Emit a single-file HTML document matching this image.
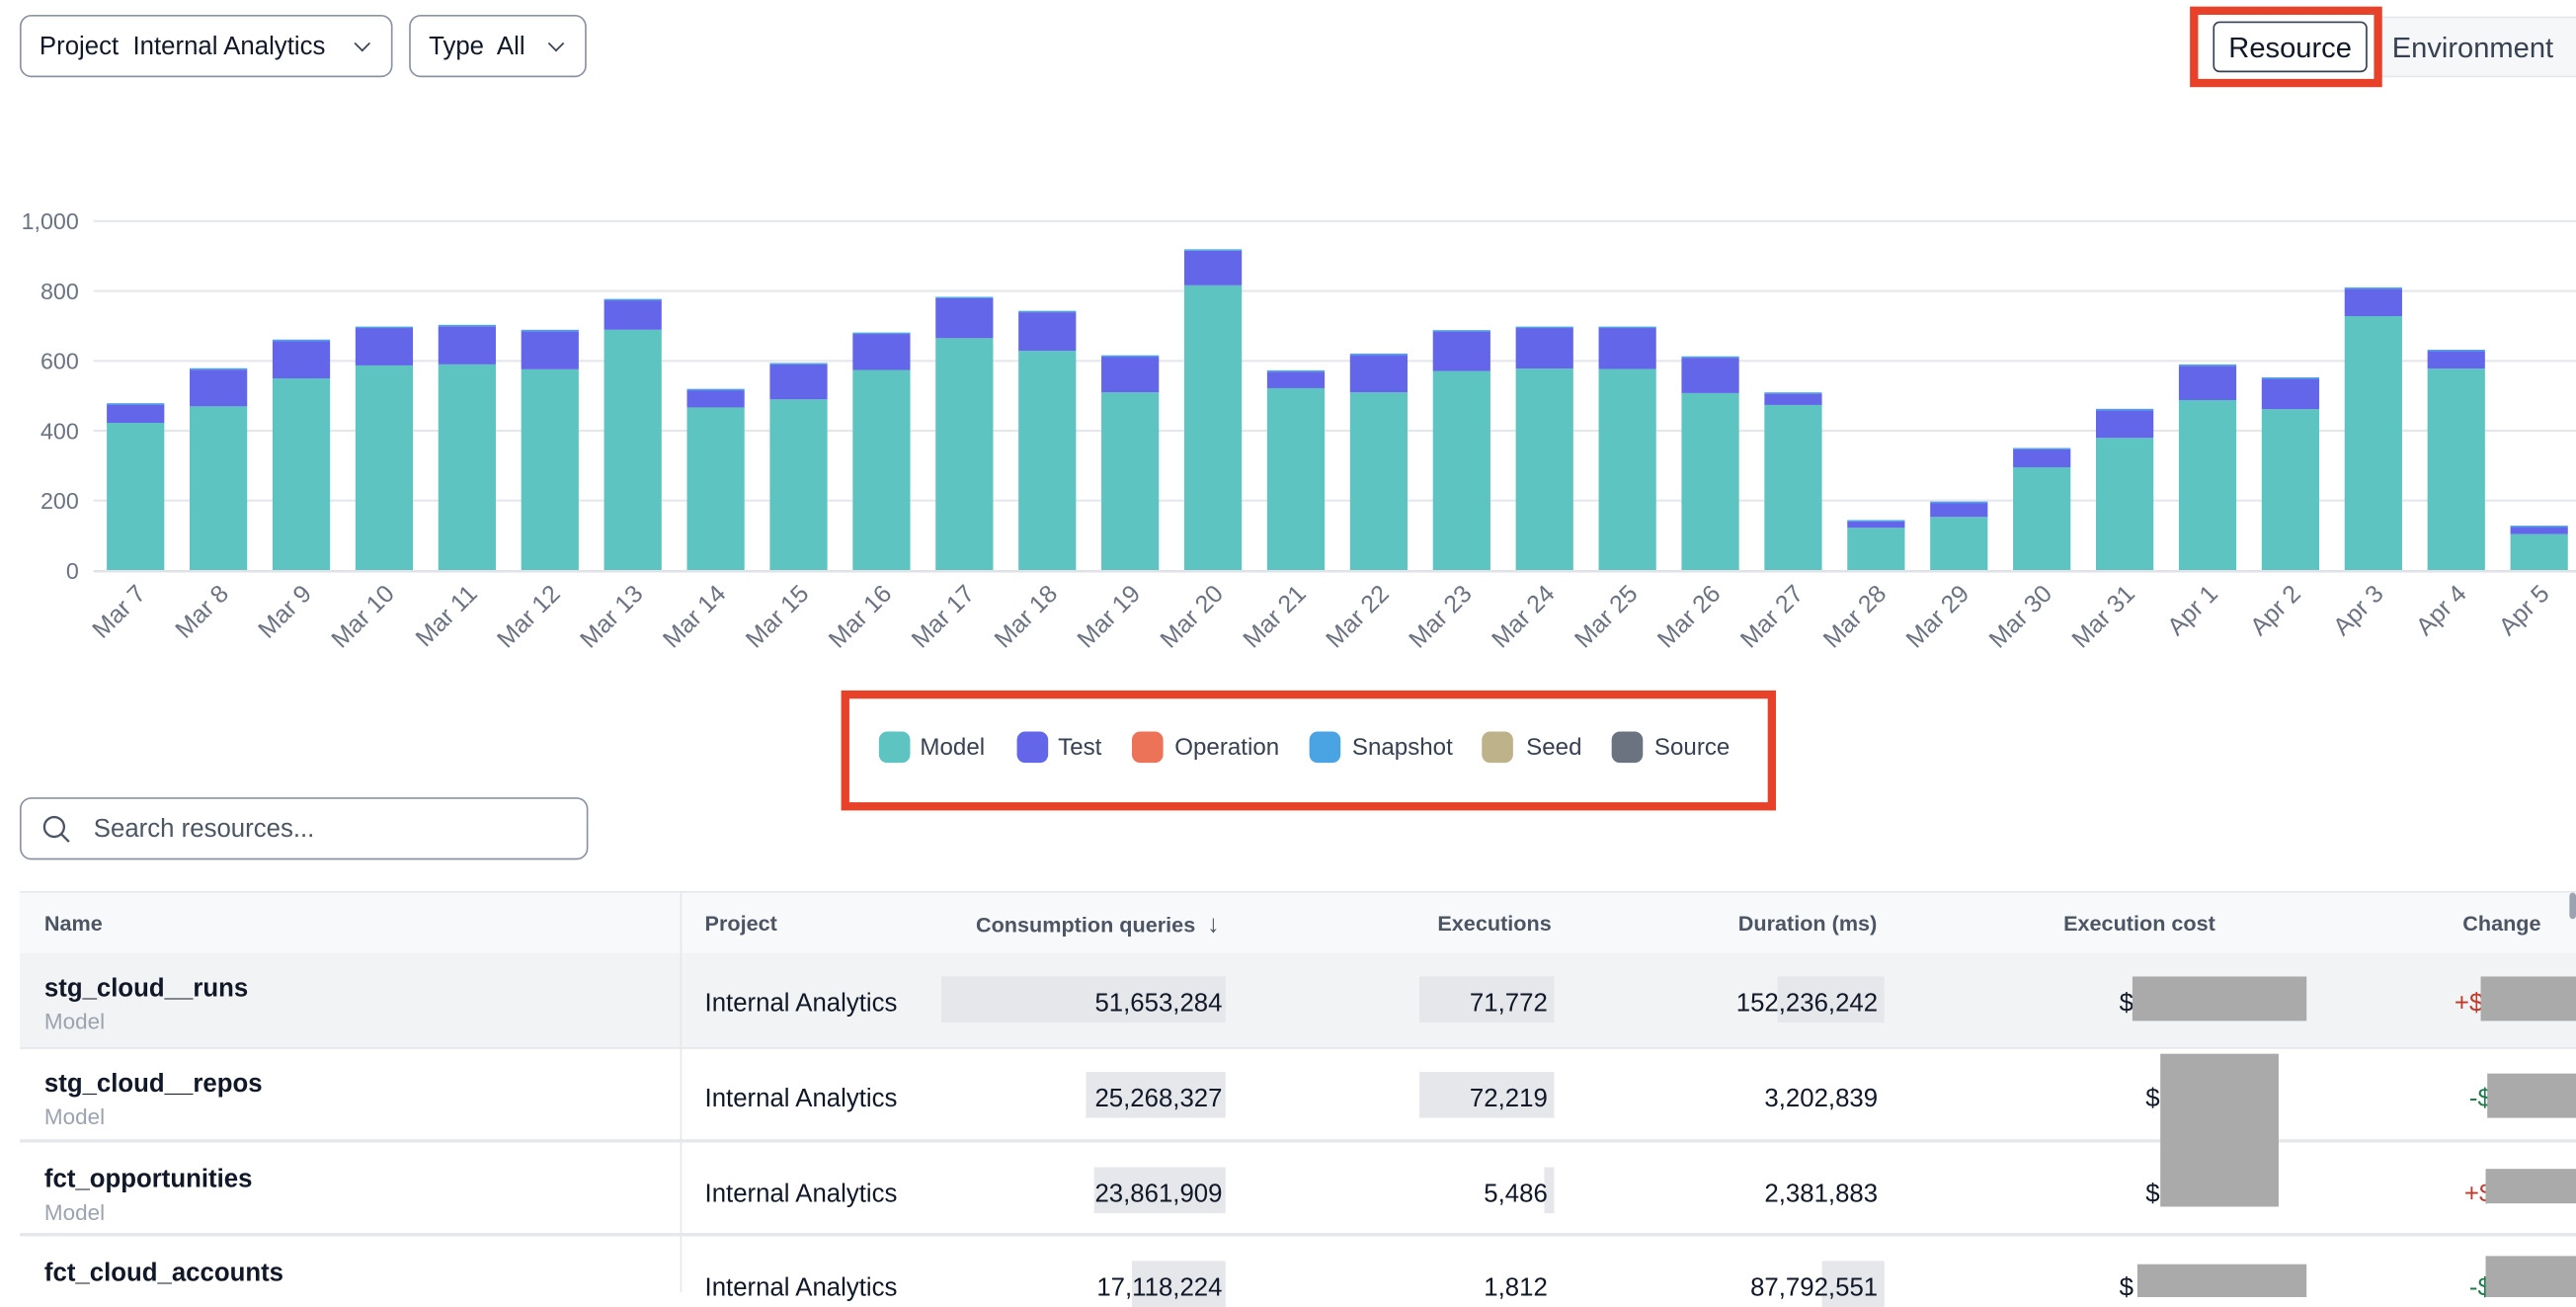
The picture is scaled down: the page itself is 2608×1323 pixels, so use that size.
<!DOCTYPE html>
<html><head><meta charset="utf-8"><style>
html,body{margin:0;padding:0;background:#fff;}
body{width:2608px;height:1308px;overflow:hidden;position:relative;}
#w{position:absolute;left:0;top:0;width:1568px;height:786px;transform:scale(1.66327,1.6641);transform-origin:0 0;font-family:"Liberation Sans",sans-serif;color:#111827;}
.a{position:absolute;}
.dd{position:absolute;border:1.3px solid #8b93a1;border-radius:7px;box-sizing:border-box;font-size:15.5px;color:#111827;line-height:38px;}
.chev{display:inline-block;width:6px;height:6px;border-right:1.3px solid #374151;border-bottom:1.3px solid #374151;transform:rotate(45deg);position:absolute;top:13px;}
.hd{position:absolute;font-size:13px;font-weight:bold;color:#4b5563;top:554px;}
.num{position:absolute;font-size:15.5px;color:#111827;text-align:right;}
.gb{position:absolute;background:#e5e7eb;}
.red{position:absolute;background:#aaaaaa;}
.nm{position:absolute;left:27px;font-size:15.5px;font-weight:bold;color:#111827;}
.ty{position:absolute;left:27px;font-size:13.5px;color:#9ca3af;}
.pr{position:absolute;left:429px;font-size:15.5px;color:#111827;}
</style></head><body><div id="w">
<div class="dd" style="left:12px;top:9px;width:227px;height:38px;padding-left:11px;">Project&nbsp; Internal Analytics<span class="chev" style="left:204px"></span></div>
<div class="dd" style="left:249px;top:9px;width:108px;height:38px;padding-left:11px;">Type&nbsp; All<span class="chev" style="left:85px"></span></div>

<div class="a" style="left:1440px;top:10px;width:130px;height:37px;background:#f6f7f9;border:1px solid #e5e7eb;box-sizing:border-box;"></div>
<div class="a" style="left:1456px;top:11px;line-height:37px;font-size:17.5px;color:#374151;">Environment</div>
<div class="a" style="left:1333px;top:4px;width:117px;height:49px;border:5px solid #e8412a;box-sizing:border-box;background:#fff;"></div>
<div class="a" style="left:1347px;top:13px;width:94px;height:31px;border:1.3px solid #374151;border-radius:4px;box-sizing:border-box;text-align:center;line-height:30px;font-size:17.5px;color:#111827;">Resource</div>

<svg class="a" style="left:0;top:0" width="1568" height="420" viewBox="0 0 1568 420">
<g stroke="#e5e7eb" stroke-width="1.3">
<line x1="57" x2="1568" y1="134.5" y2="134.5"/><line x1="57" x2="1568" y1="177" y2="177"/><line x1="57" x2="1568" y1="219.5" y2="219.5"/><line x1="57" x2="1568" y1="262" y2="262"/><line x1="57" x2="1568" y1="304.5" y2="304.5"/>
</g>
<g font-family="Liberation Sans" font-size="14" fill="#6b7280" text-anchor="end">
<text x="48" y="139.5">1,000</text><text x="48" y="182">800</text><text x="48" y="224.5">600</text><text x="48" y="267">400</text><text x="48" y="309.5">200</text><text x="48" y="352">0</text>
</g>
<g id="bars"></g>
<line x1="57" x2="1568" y1="347.5" y2="347.5" stroke="#e0e2e8" stroke-width="1.5"/>
<g id="lbl" font-family="Liberation Sans" font-size="15" fill="#6b7280" text-anchor="end"></g>
</svg>
<script>
var d=[[422,478],[469,578],[549,660],[586,697],[589,702],[575,688],[688,776],[466,519],[489,593],[573,680],[664,782],[628,742],[509,615],[815,918],[521,572],[509,620],[570,687],[577,697],[576,697],[507,612],[473,509],[122,144],[153,197],[295,350],[379,462],[487,589],[461,552],[727,809],[577,631],[104,128]];
var names=[];for(var i=7;i<=31;i++)names.push("Mar "+i);for(var i=1;i<=5;i++)names.push("Apr "+i);
var s="",l="",k=0.2128;
for(var i=0;i<30;i++){var c=82.5+i*50.45,x=c-17.5,m=d[i][0],t=d[i][1];
var ym=347-m*k,yt=347-t*k,ys=347-(t-4)*k;
s+='<rect x="'+x+'" y="'+ym+'" width="35" height="'+(347-ym)+'" fill="#5ec4c1"/>';
s+='<rect x="'+x+'" y="'+ys+'" width="35" height="'+(ym-ys)+'" fill="#6366e9"/>';
s+='<rect x="'+x+'" y="'+yt+'" width="35" height="'+(ys-yt)+'" fill="#4aa3e2"/>';
var ax=c+7,ay=362;
l+='<text x="'+ax+'" y="'+ay+'" transform="rotate(-45 '+ax+' '+ay+')">'+names[i]+'</text>';}
document.getElementById("bars").innerHTML=s;document.getElementById("lbl").innerHTML=l;
</script>

<div class="a" style="left:512px;top:420px;width:569px;height:73px;border:5.5px solid #e8412a;box-sizing:border-box;"></div>
<div class="a" style="left:535px;top:445px;font-size:14.5px;color:#374151;line-height:19px;white-space:nowrap;">
<span style="position:absolute;left:0;width:19px;height:19px;border-radius:5px;background:#5ec4c1"></span><span style="position:absolute;left:25px;top:1px">Model</span>
<span style="position:absolute;left:84px;width:19px;height:19px;border-radius:5px;background:#6366e9"></span><span style="position:absolute;left:109px;top:1px">Test</span>
<span style="position:absolute;left:154px;width:19px;height:19px;border-radius:5px;background:#ec7357"></span><span style="position:absolute;left:180px;top:1px">Operation</span>
<span style="position:absolute;left:262px;width:19px;height:19px;border-radius:5px;background:#4aa3e2"></span><span style="position:absolute;left:288px;top:1px">Snapshot</span>
<span style="position:absolute;left:367px;width:19px;height:19px;border-radius:5px;background:#bdb28a"></span><span style="position:absolute;left:394px;top:1px">Seed</span>
<span style="position:absolute;left:446px;width:19px;height:19px;border-radius:5px;background:#6b7280"></span><span style="position:absolute;left:472px;top:1px">Source</span>
</div>

<div class="dd" style="left:12px;top:485px;width:346px;height:38px;padding-left:44px;color:#4b5563;font-size:15.5px;">Search resources...</div>
<svg class="a" style="left:25px;top:495px" width="20" height="20"><circle cx="8" cy="8" r="6" fill="none" stroke="#4b5563" stroke-width="1.4"/><line x1="12.5" y1="12.5" x2="17" y2="17" stroke="#4b5563" stroke-width="1.4"/></svg>

<div class="a" style="left:12px;top:542px;width:1556px;height:37px;background:#f8f9fb;border-top:1.5px solid #e5e7eb;border-bottom:1.5px solid #e5e7eb;"></div>
<div class="a" style="left:12px;top:580px;width:1556px;height:57px;background:#f2f3f5;border-bottom:1.5px solid #e5e7eb;"></div>
<div class="a" style="left:12px;top:693px;width:1556px;height:1.5px;background:#e5e7eb;"></div>
<div class="a" style="left:12px;top:750px;width:1556px;height:1.5px;background:#e5e7eb;"></div>
<div class="a" style="left:414px;top:543px;width:1px;height:243px;background:#e5e7eb;"></div>
<div class="a" style="left:1564px;top:543px;width:4px;height:16px;background:#9ca3af;border-radius:2px;"></div>

<div class="hd" style="left:27px">Name</div>
<div class="hd" style="left:429px">Project</div>
<div class="hd" style="left:594px">Consumption queries&nbsp; <span style="font-weight:normal;font-size:15px">↓</span></div>
<div class="hd" style="left:875px">Executions</div>
<div class="hd" style="left:1058px">Duration (ms)</div>
<div class="hd" style="left:1256px">Execution cost</div>
<div class="hd" style="left:1499px">Change</div>

<div class="nm" style="top:593px">stg_cloud__runs</div><div class="ty" style="top:614px">Model</div>
<div class="nm" style="top:651px">stg_cloud__repos</div><div class="ty" style="top:672px">Model</div>
<div class="nm" style="top:709px">fct_opportunities</div><div class="ty" style="top:730px">Model</div>
<div class="nm" style="top:766px">fct_cloud_accounts</div>
<div class="pr" style="top:602px">Internal Analytics</div>
<div class="pr" style="top:660px">Internal Analytics</div>
<div class="pr" style="top:718px">Internal Analytics</div>
<div class="pr" style="top:775px">Internal Analytics</div>

<div class="gb" style="left:573px;top:594px;width:173px;height:28px"></div>
<div class="gb" style="left:661px;top:652px;width:85px;height:28px"></div>
<div class="gb" style="left:666px;top:710px;width:80px;height:28px"></div>
<div class="gb" style="left:689px;top:767px;width:57px;height:28px"></div>
<div class="gb" style="left:864px;top:594px;width:82px;height:28px"></div>
<div class="gb" style="left:864px;top:652px;width:82px;height:28px"></div>
<div class="gb" style="left:940px;top:710px;width:6px;height:28px"></div>
<div class="gb" style="left:1082px;top:594px;width:65px;height:28px"></div>
<div class="gb" style="left:1109px;top:767px;width:38px;height:28px"></div>

<div class="num" style="right:824px;top:602px">51,653,284</div>
<div class="num" style="right:824px;top:660px">25,268,327</div>
<div class="num" style="right:824px;top:718px">23,861,909</div>
<div class="num" style="right:824px;top:775px">17,118,224</div>
<div class="num" style="right:626px;top:602px">71,772</div>
<div class="num" style="right:626px;top:660px">72,219</div>
<div class="num" style="right:626px;top:718px">5,486</div>
<div class="num" style="right:626px;top:775px">1,812</div>
<div class="num" style="right:425px;top:602px">152,236,242</div>
<div class="num" style="right:425px;top:660px">3,202,839</div>
<div class="num" style="right:425px;top:718px">2,381,883</div>
<div class="num" style="right:425px;top:775px">87,792,551</div>

<div class="num" style="left:1290px;top:602px">$</div>
<div class="num" style="left:1306px;top:660px">$</div>
<div class="num" style="left:1306px;top:718px">$</div>
<div class="num" style="left:1290px;top:775px">$</div>
<div class="red" style="left:1298px;top:594px;width:106px;height:27px"></div>
<div class="red" style="left:1315px;top:641px;width:72px;height:93px"></div>
<div class="red" style="left:1301px;top:769px;width:103px;height:20px"></div>

<div class="num" style="left:1494px;top:602px;color:#c0392b">+$</div>
<div class="num" style="left:1503px;top:660px;color:#1e7a4a">-$</div>
<div class="num" style="left:1500px;top:718px;color:#c0392b">+$</div>
<div class="num" style="left:1503px;top:775px;color:#1e7a4a">-$</div>
<div class="red" style="left:1510px;top:594px;width:58px;height:27px"></div>
<div class="red" style="left:1514px;top:653px;width:54px;height:27px"></div>
<div class="red" style="left:1513px;top:711px;width:55px;height:21px"></div>
<div class="red" style="left:1513px;top:764px;width:55px;height:25px"></div>
</div></body></html>
